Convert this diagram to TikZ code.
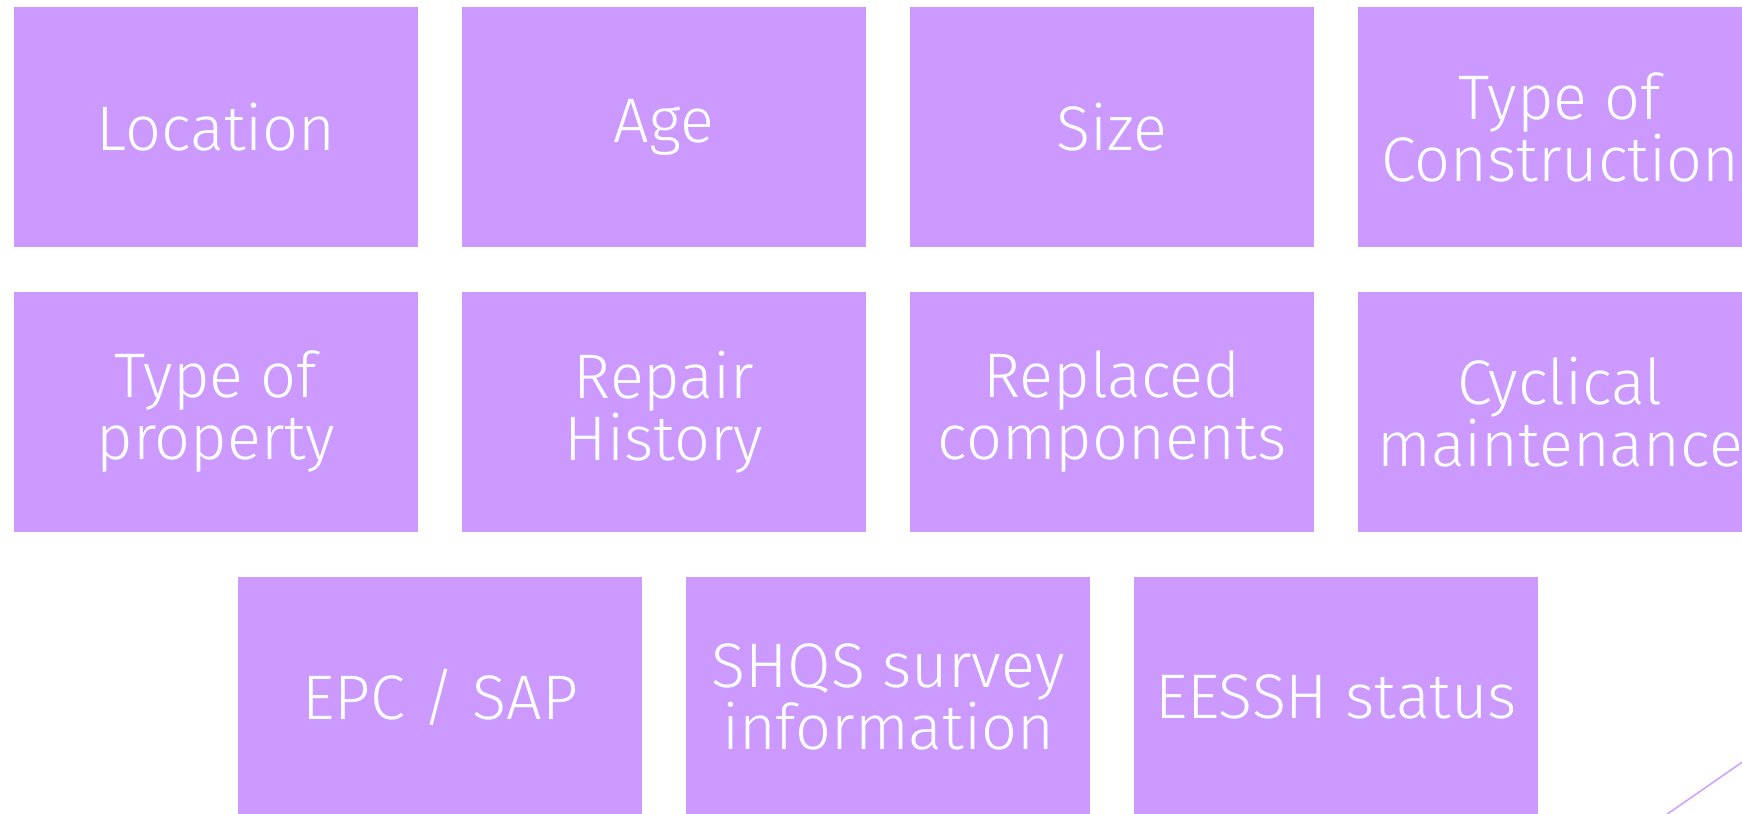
\documentclass[tikz,border=0pt]{standalone}
\usepackage{fontspec}
\setmainfont{Fira Sans}[UprightFont=* Light]
\definecolor{tile}{HTML}{CC99FF}
\definecolor{accent}{HTML}{CFA3FF}
\begin{document}
\begin{tikzpicture}[x=0.5pt,y=-0.5pt,
  tile/.style={rectangle, fill=tile, draw=none, inner sep=0pt,
    minimum width=202pt, minimum height=120pt,
    text=white, align=center,
    font=\fontsize{31.5}{31}\selectfont}]
\useasboundingbox (0,0) rectangle (1742,814);
\clip (0,0) rectangle (1742,814);
% first row
\node[tile] (loc)  at (216,127)  {Location};
\node[tile] (age)  at (664,127)  {Age};
\node[tile] (size) at (1112,127) {Size};
\node[tile] (cons) at (1560,127) {Type of\\Construction};
% second row
\node[tile] (prop) at (216,412)  {Type of\\property};
\node[tile] (rep)  at (664,412)  {Repair\\History};
\node[tile] (comp) at (1112,412) {Replaced\\components};
\node[tile] (cyc)  at (1560,412) {Cyclical\\maintenance};
% third row
\node[tile] (epc)   at (440,697)  {EPC / SAP};
\node[tile] (shqs)  at (888,697)  {SHQS survey\\information};
\node[tile] (eessh) at (1336,697) {EESSH status};
% thin accent stroke in the corner
\coordinate (s1) at (1640,833);
\coordinate (s2) at (1790,729);
\draw[accent, line width=0.8pt] (s1) -- (s2);
\end{tikzpicture}
\end{document}
